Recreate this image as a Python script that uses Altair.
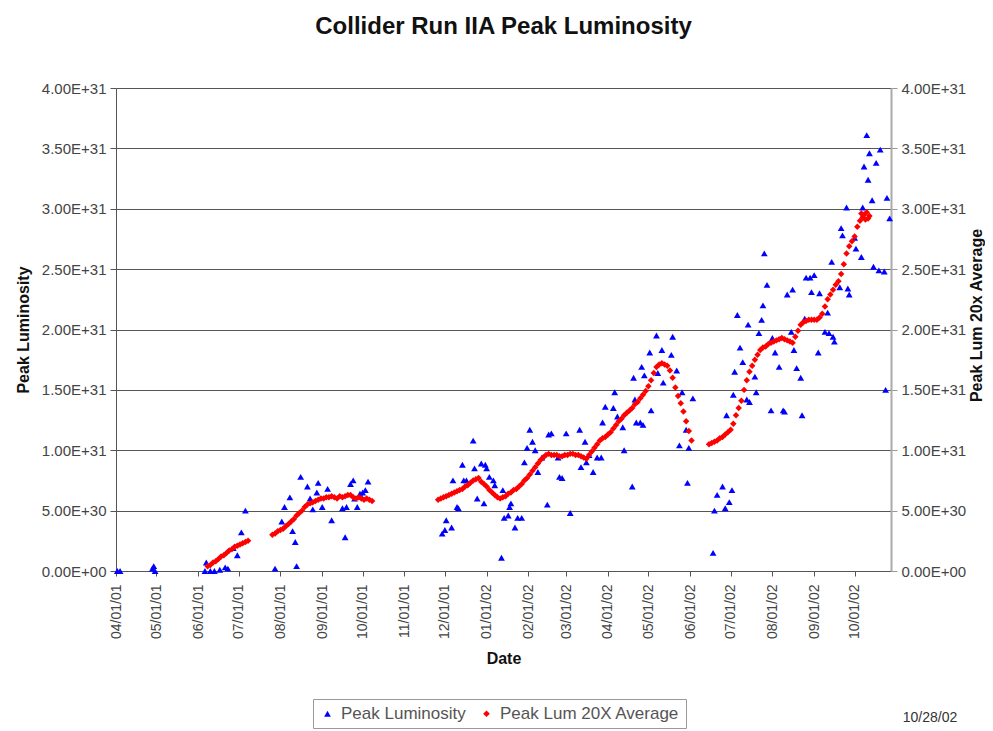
import altair as alt
import pandas as pd

# days after 2001-04-01, luminosity in units of 1E+31
blue_day = [1, 3, 27, 28, 29, 66, 67, 70, 73, 77, 81, 83, 87, 90, 93, 96,
            118, 123, 125, 129, 131, 133, 134, 137, 142, 144, 146, 149, 150, 153, 157, 160,
            168, 170, 171, 174, 176, 177, 179, 181, 183, 185, 187,
            242, 244, 245, 249, 250, 253, 254, 257, 258, 260, 265, 266, 268, 271, 273, 274,
            275, 277, 280, 281, 286, 287, 288, 291, 292, 293, 296, 298, 301, 303, 305, 307,
            309, 311, 313, 316, 320, 321, 323, 328, 329, 331, 334, 337, 344, 345, 348, 349,
            351, 354,
            357, 360, 361, 363, 369, 370, 372, 376, 377, 383, 384, 385, 386, 389, 390, 391,
            392, 396, 397, 401, 402, 405, 406, 412, 413, 416, 418, 420, 423, 424, 425, 428,
            443, 444, 446, 450, 452, 453, 455, 457, 458, 459, 461, 463, 465, 468, 469,
            470, 474, 475, 477, 479, 480, 481, 483, 486, 487, 489, 492, 495, 496, 498, 501,
            502, 503, 505, 508, 509, 511, 512, 515, 516, 518, 521, 522, 526, 528, 529, 531,
            532, 533, 537, 538, 539, 542, 543, 544, 548, 549, 553, 554, 555, 557, 558, 559,
            561, 562, 564, 566, 567, 570, 571, 572, 574]
blue_val = [0.00, 0.00, 0.02, 0.04, 0.00, 0.00, 0.07, 0.00, 0.00, 0.01, 0.03, 0.02, 0.19, 0.13, 0.32, 0.50,
            0.02, 0.41, 0.53, 0.61, 0.33, 0.24, 0.04, 0.78, 0.70, 0.60, 0.51, 0.65, 0.73, 0.53, 0.68, 0.42,
            0.52, 0.28, 0.53, 0.72, 0.75, 0.60, 0.53, 0.64, 0.65, 0.67, 0.74,
            0.31, 0.34, 0.42, 0.36, 0.75, 0.53, 0.52, 0.88, 0.75, 0.75, 1.08, 0.85, 0.60, 0.89, 0.56, 0.88,
            0.85, 0.78, 0.75, 0.71, 0.11, 0.67, 0.44, 0.46, 0.53, 0.56, 0.36, 0.44, 0.44, 0.90, 1.02, 1.17,
            1.07, 1.00, 0.82, 0.94, 0.55, 1.13, 1.14, 0.94, 0.78, 0.77, 1.14, 0.48, 1.17, 0.86, 1.07, 0.90,
            0.96, 0.82,
            0.94, 0.94, 1.23, 1.36, 1.35, 1.48, 1.28, 1.19, 1.00, 0.70, 1.60, 1.42, 1.23, 1.23, 1.69, 1.21,
            1.62, 1.81, 1.33, 1.95, 1.64, 1.83, 1.56, 1.79, 1.94, 1.66, 1.04, 1.48, 1.17, 0.73, 1.02, 1.43,
            0.15, 0.50, 0.63, 0.70, 0.52, 1.29, 0.57, 0.67, 1.46, 1.65, 2.12, 1.85, 1.73, 1.42, 2.04,
            1.40, 1.61, 1.48, 1.97, 2.08, 2.20, 2.63, 2.37, 1.33, 1.93, 1.81, 1.69, 1.33, 1.32, 2.29, 1.98,
            2.33, 1.83, 1.68, 1.60, 1.29, 2.09, 2.43, 2.43, 2.31, 2.45, 1.81, 2.30, 1.98, 2.14, 1.97, 2.56,
            1.94, 1.90, 2.35, 2.84, 2.78, 3.01, 2.34, 2.29, 2.76, 2.67, 2.60, 3.01, 3.35, 3.61, 3.24, 3.46,
            3.07, 2.52, 3.38, 2.49, 3.49, 2.48, 1.50, 3.09, 2.92]

red_day = [68, 70, 72, 74, 76, 78, 80, 82, 84, 86, 88, 90, 92, 94, 96, 98,
           116, 118, 120, 122, 124, 126, 128, 130, 132, 134, 136, 138, 140, 142, 144, 146,
           148, 150, 152, 154, 156, 158, 160, 162, 164, 166, 168, 170, 172, 174, 176, 178,
           180, 182, 184, 186, 188, 190,
           239, 241, 243, 245, 247, 249, 251, 253, 255, 257, 259, 261, 263, 265, 267, 269,
           271, 273, 275, 277, 279, 281, 283, 285, 287, 289, 291, 293, 295, 297, 299, 301,
           303, 305, 307, 309, 311, 313, 315, 317, 319, 321, 323, 325, 327, 329, 331, 333,
           335, 337, 339, 341, 343, 345, 347, 349, 351, 353, 355, 357, 359, 361, 363, 365,
           367, 369, 371, 373, 375, 377, 379, 381, 383, 385, 387, 389, 391, 393, 395, 397,
           399, 401, 403, 405, 407, 409, 411, 413, 415, 417, 419, 421, 423, 425, 427,
           440, 442, 444, 446, 448, 450, 452, 454, 456, 458, 460, 462, 464, 466, 468, 470,
           472, 474, 476, 478, 480, 482, 484, 486, 488, 490, 492, 494, 496, 498, 500, 502,
           504, 506, 508, 510, 512, 514, 516, 518, 520, 522, 524, 526, 528, 530, 532, 534,
           536, 538, 540, 542, 544, 546, 548, 550, 552, 553, 554, 555, 556, 557, 558, 559]
red_val = [0.04, 0.05, 0.07, 0.08, 0.10, 0.12, 0.13, 0.15, 0.17, 0.18, 0.20, 0.21, 0.22, 0.23, 0.24, 0.25,
           0.30, 0.31, 0.33, 0.34, 0.35, 0.37, 0.39, 0.41, 0.43, 0.46, 0.48, 0.50, 0.53, 0.55, 0.56, 0.57,
           0.58, 0.59, 0.60, 0.60, 0.61, 0.61, 0.62, 0.61, 0.60, 0.62, 0.61, 0.62, 0.63, 0.63, 0.61, 0.60,
           0.61, 0.60, 0.59, 0.60, 0.59, 0.58,
           0.59, 0.60, 0.61, 0.62, 0.63, 0.64, 0.65, 0.66, 0.67, 0.68, 0.70, 0.71, 0.73, 0.75, 0.76, 0.77,
           0.74, 0.72, 0.70, 0.67, 0.65, 0.63, 0.61, 0.60, 0.61, 0.62, 0.64, 0.65, 0.67, 0.68, 0.70, 0.72,
           0.75, 0.77, 0.80, 0.83, 0.86, 0.89, 0.92, 0.94, 0.96, 0.97, 0.96, 0.96, 0.96, 0.95, 0.95, 0.96,
           0.96, 0.97, 0.97, 0.96, 0.96, 0.95, 0.94, 0.93, 0.96, 0.99, 1.02, 1.05, 1.08, 1.10, 1.11, 1.13,
           1.15, 1.18, 1.21, 1.24, 1.26, 1.29, 1.31, 1.33, 1.35, 1.38, 1.40, 1.43, 1.46, 1.49, 1.53, 1.58,
           1.64, 1.69, 1.71, 1.72, 1.71, 1.70, 1.66, 1.60, 1.52, 1.45, 1.39, 1.32, 1.24, 1.16, 1.08,
           1.05, 1.06, 1.07, 1.08, 1.10, 1.11, 1.13, 1.15, 1.17, 1.22, 1.29, 1.35, 1.41, 1.50, 1.58, 1.65,
           1.70, 1.75, 1.79, 1.83, 1.85, 1.86, 1.88, 1.89, 1.90, 1.91, 1.92, 1.93, 1.92, 1.91, 1.90, 1.89,
           1.94, 1.99, 2.04, 2.06, 2.07, 2.08, 2.08, 2.08, 2.08, 2.10, 2.13, 2.19, 2.25, 2.29, 2.33, 2.37,
           2.40, 2.46, 2.54, 2.63, 2.69, 2.73, 2.77, 2.85, 2.90, 2.96, 2.93, 2.95, 2.91, 2.97, 2.92, 2.94]

series_names = ["Peak Luminosity", "Peak Lum 20X Average"]
series_colors = ["#0000ff", "#ff0000"]
series_shapes = ["triangle-up", "diamond"]
y_ticks = [0, 0.5, 1.0, 1.5, 2.0, 2.5, 3.0, 3.5, 4.0]
stamp_text = ["10/28/02"]

start = pd.Timestamp("2001-04-01")
blue = pd.DataFrame({"date": start + pd.to_timedelta(blue_day, unit="D"),
                     "lum": blue_val, "series": series_names[0]})
red = pd.DataFrame({"date": start + pd.to_timedelta(red_day, unit="D"),
                    "lum": red_val, "series": series_names[1]})

FONT = "Liberation Sans"
label_expr = ("datum.value == 0 ? '0.00E+00' : (datum.value < 1 ? format(datum.value*10, '.2f') + 'E+30' "
              ": format(datum.value, '.2f') + 'E+31')")

xenc = alt.X("date:T",
             scale=alt.Scale(domain=[alt.DateTime(year=2001, month=4, date=1),
                                     alt.DateTime(year=2002, month=10, date=28)]),
             axis=alt.Axis(format="%m/%d/%y", labelAngle=270, grid=False,
                           tickCount=alt.TimeIntervalStep(interval="month", step=1),
                           labelOverlap=False, labelFlush=False, labelFontSize=14,
                           labelFont=FONT, labelColor="#444", labelPadding=8,
                           tickSize=5, tickColor="#555", domainColor="#555",
                           title="Date", titleFont=FONT, titleFontSize=16,
                           titleFontWeight="bold", titleColor="#111", titlePadding=12))

legend = alt.Legend(title=None, orient="none", legendX=197, legendY=611,
                    direction="horizontal", strokeColor="#999", fillColor="white",
                    padding=6, labelFont=FONT, labelFontSize=17, labelColor="#555",
                    labelLimit=400, symbolSize=45, columnPadding=12, labelOffset=5,
                    symbolStrokeWidth=0)
color = alt.Color("series:N", scale=alt.Scale(domain=series_names, range=series_colors), legend=legend)
shape = alt.Shape("series:N", scale=alt.Scale(domain=series_names, range=series_shapes), legend=legend)

blue_layer = alt.Chart(blue).mark_point(filled=True, size=46, opacity=1).encode(
    x=xenc,
    y=alt.Y("lum:Q", scale=alt.Scale(domain=[0, 4], nice=False),
            axis=alt.Axis(orient="left", values=y_ticks, labelExpr=label_expr, grid=True,
                          gridColor="#555", gridWidth=1, tickSize=6, tickColor="#555",
                          domainColor="#555", labelFont=FONT, labelFontSize=15,
                          labelColor="#444", labelPadding=4,
                          title="Peak Luminosity", titleFont=FONT, titleFontSize=16,
                          titleFontWeight="bold", titleColor="#111", titlePadding=10)),
    color=color, shape=shape)

red_layer = alt.Chart(red).mark_point(filled=True, size=42, opacity=1).encode(
    x=xenc,
    y=alt.Y("lum:Q", scale=alt.Scale(domain=[0, 4], nice=False),
            axis=alt.Axis(orient="right", values=y_ticks, labelExpr=label_expr, grid=False,
                          tickSize=6, tickColor="#999", domainColor="#aaa", domainWidth=2,
                          labelFont=FONT, labelFontSize=15, labelColor="#444", labelPadding=4,
                          title="Peak Lum 20x Average", titleFont=FONT, titleFontSize=16,
                          titleFontWeight="bold", titleColor="#111", titleAngle=270,
                          titleAlign="center", titleBaseline="middle",
                          titleX=85, titleY=227)),
    color=color, shape=shape)

stamp = alt.Chart(pd.DataFrame({"t": stamp_text})).mark_text(
    font=FONT, fontSize=14, color="#333", align="center", baseline="middle").encode(
    text="t:N", x=alt.value(814), y=alt.value(630))

chart = alt.layer(blue_layer, red_layer, stamp).resolve_scale(y="independent").properties(
    width=775, height=483,
    padding={"left": 108, "top": 80, "right": 94, "bottom": 160},
    autosize=alt.AutoSizeParams(type="none"),
    title=alt.TitleParams("Collider Run IIA Peak Luminosity", font=FONT, fontSize=24,
                          fontWeight="bold", anchor="middle", offset=42, color="#111"),
).configure_view(strokeWidth=0).configure(background="white")

chart.save("out.html", embed_options={"renderer": "svg", "actions": False})
